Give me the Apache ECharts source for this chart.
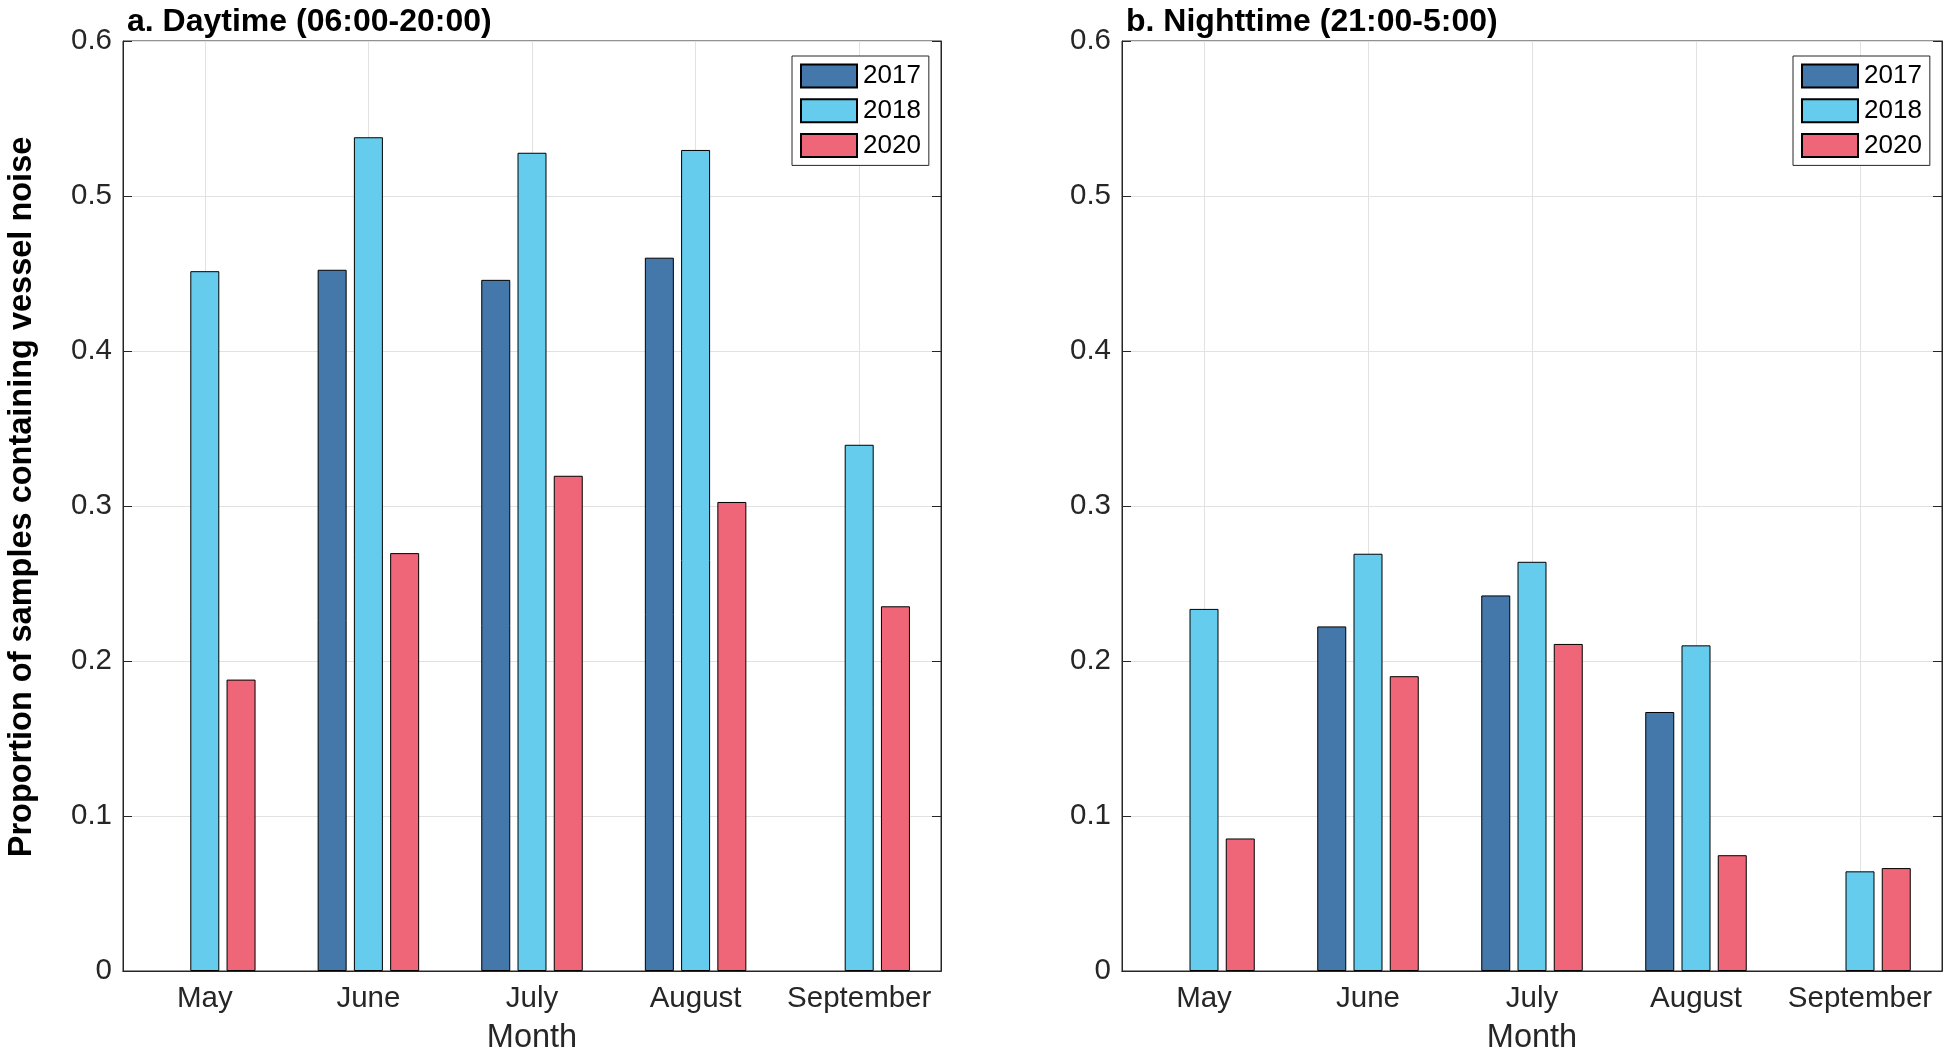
<!DOCTYPE html>
<html>
<head>
<meta charset="utf-8">
<script src="https://cdn.jsdelivr.net/npm/echarts@6/dist/echarts.min.js"></script>
<style>
html,body{margin:0;padding:0;background:#fff;}
#chart{width:1949px;height:1060px;}
</style>
</head>
<body>
<div id="chart"></div>
<script>
const categories = ['May', 'June', 'July', 'August', 'September'];
const years = ['2017', '2018', '2020'];
const yTicks = [0, 0.1, 0.2, 0.3, 0.4, 0.5, 0.6];
const panelTitles = ['a. Daytime (06:00-20:00)', 'b. Nighttime (21:00-5:00)'];
const yAxisTitle = 'Proportion of samples containing vessel noise';
const xAxisTitle = 'Month';

const day2017 = [null, 0.4524, 0.4459, 0.4602, null];
const day2018 = [0.4515, 0.5379, 0.5279, 0.5297, 0.3395];
const day2020 = [0.1880, 0.2696, 0.3195, 0.3026, 0.2353];

const night2017 = [null, 0.2223, 0.2423, 0.1671, null];
const night2018 = [0.2336, 0.2692, 0.2640, 0.2101, 0.0643];
const night2020 = [0.0855, 0.1902, 0.2110, 0.0747, 0.0664];

const colors = ['#4477AA', '#66CCEE', '#EE6677'];
const FONT = 'Liberation Sans, Arial, Helvetica, sans-serif';
const AX = '#262626';

const panels = [
  { data: [day2017, day2018, day2020], grid: { left: 123, top: 41, width: 818, height: 938 }, legendLeft: 792 },
  { data: [night2017, night2018, night2020], grid: { left: 1122, top: 41, width: 820, height: 938 }, legendLeft: 1793 }
];

const option = {
  backgroundColor: '#fff',
  animation: false,
  title: [], grid: [], xAxis: [], yAxis: [], legend: [], series: [],
  graphic: [{
    type: 'text', x: 22, y: 497, rotation: Math.PI / 2,
    style: {
      text: yAxisTitle, fontFamily: FONT, fontSize: 32.5, fontWeight: 'bold', fill: '#000',
      align: 'center', verticalAlign: 'middle'
    }
  }]
};

panels.forEach((p, i) => {
  option.title.push({
    text: panelTitles[i],
    left: p.grid.left + 4, top: 6, padding: 0,
    textStyle: { fontFamily: FONT, fontSize: 32, fontWeight: 'bold', color: '#000' }
  });
  option.grid.push(Object.assign({ show: true, borderColor: AX, borderWidth: 1, backgroundColor: 'transparent' }, p.grid));
  option.xAxis.push({
    type: 'category', gridIndex: i, data: categories, position: 'bottom',
    name: xAxisTitle, nameLocation: 'middle', nameGap: 51,
    nameTextStyle: { fontFamily: FONT, fontSize: 32.5, color: AX },
    axisLine: { lineStyle: { color: AX, width: 1 } },
    axisTick: { inside: true, length: 9, alignWithLabel: true, lineStyle: { color: AX } },
    axisLabel: { interval: 0, fontFamily: FONT, fontSize: 29.5, color: AX, margin: 13 },
    splitLine: { show: true, alignWithLabel: true, lineStyle: { color: '#e2e2e2', width: 1 } }
  });
  option.xAxis.push({
    type: 'category', gridIndex: i, data: categories, position: 'top',
    axisLine: { lineStyle: { color: AX, width: 1 } },
    axisTick: { inside: true, length: 9, alignWithLabel: true, lineStyle: { color: AX } },
    axisLabel: { show: false }, splitLine: { show: false }
  });
  option.yAxis.push({
    type: 'value', gridIndex: i, min: yTicks[0], max: yTicks[yTicks.length - 1], interval: 0.1, position: 'left',
    axisLine: { show: true, lineStyle: { color: AX, width: 1 } },
    axisTick: { show: true, inside: true, length: 9, lineStyle: { color: AX } },
    axisLabel: { fontFamily: FONT, fontSize: 29.5, color: AX, margin: 11 },
    splitLine: { show: true, lineStyle: { color: '#e2e2e2', width: 1 } }
  });
  option.yAxis.push({
    type: 'value', gridIndex: i, min: yTicks[0], max: yTicks[yTicks.length - 1], interval: 0.1, position: 'right',
    axisLine: { show: true, lineStyle: { color: AX, width: 1 } },
    axisTick: { show: true, inside: true, length: 9, lineStyle: { color: AX } },
    axisLabel: { show: false }, splitLine: { show: false }
  });
  option.legend.push({
    data: years, orient: 'vertical', left: p.legendLeft, top: 56,
    itemWidth: 56, itemHeight: 23, itemGap: 8.7, icon: 'rect',
    padding: [7, 8, 7, 8], backgroundColor: '#fff', borderColor: AX, borderWidth: 1,
    borderRadius: 0, selectedMode: false,
    textStyle: { fontFamily: FONT, fontSize: 26, color: '#000', padding: [0, 0, 0, 1] }
  });
  years.forEach((y, k) => {
    option.series.push({
      type: 'bar', name: y, xAxisIndex: i * 2, yAxisIndex: i * 2,
      data: p.data[k].map(v => (v === null ? '-' : v)),
      barWidth: 29, barGap: '25%',
      itemStyle: { color: colors[k], borderColor: '#000', borderWidth: 1 },
      z: 2
    });
  });
});

const chart = echarts.init(document.getElementById('chart'), null, { renderer: 'canvas' });
chart.setOption(option);
</script>
</body>
</html>
